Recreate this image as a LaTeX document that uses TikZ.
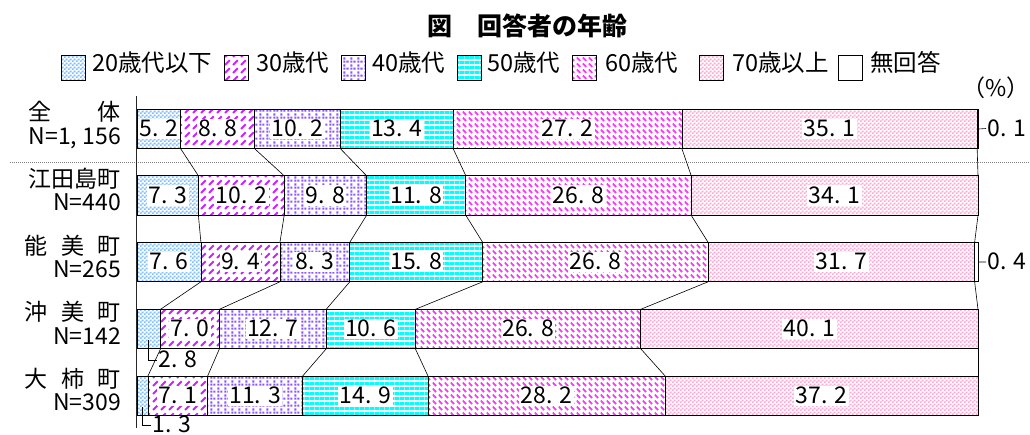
\documentclass[tikz,border=0pt]{standalone}
\usepackage{fontspec}
\setmainfont{Noto Sans CJK JP}
\usetikzlibrary{patterns}
\definecolor{c20}{HTML}{7FBFFF}
\definecolor{c30}{HTML}{CC22FF}
\definecolor{c40}{HTML}{8C55FF}
\definecolor{c50}{HTML}{00FFFF}
\definecolor{c60}{HTML}{FF33FF}
\definecolor{c70}{HTML}{FFA8D4}
\newcommand\whitebg[2]{\pgfsetfillcolor{white}\pgfpathrectangle{\pgfpointorigin}{\pgfqpoint{#1}{#2}}\pgfusepath{fill}}
\pgfdeclarepatterninherentlycolored{p20}{\pgfpointorigin}{\pgfqpoint{4pt}{4pt}}{\pgfqpoint{4pt}{4pt}}{%
  \whitebg{4pt}{4pt}%
  \pgfsetfillcolor{c20}\pgfpathrectangle{\pgfpointorigin}{\pgfqpoint{2pt}{2pt}}%
  \pgfpathrectangle{\pgfqpoint{2pt}{2pt}}{\pgfqpoint{2pt}{2pt}}\pgfusepath{fill}}
\pgfdeclarepatterninherentlycolored{p30}{\pgfpointorigin}{\pgfqpoint{8pt}{8pt}}{\pgfqpoint{8pt}{8pt}}{%
  \whitebg{8pt}{8pt}%
  \pgfsetstrokecolor{c30}\pgfsetlinewidth{2.2pt}%
  \pgfpathmoveto{\pgfqpoint{1.2pt}{1.2pt}}\pgfpathlineto{\pgfqpoint{6.3pt}{6.3pt}}\pgfusepath{stroke}}
\pgfdeclarepatterninherentlycolored{p40}{\pgfpointorigin}{\pgfqpoint{7pt}{7pt}}{\pgfqpoint{7pt}{7pt}}{%
  \whitebg{7pt}{7pt}%
  \pgfsetfillcolor{c40}\pgfpathrectangle{\pgfqpoint{0.3pt}{0.3pt}}{\pgfqpoint{2.4pt}{2.4pt}}%
  \pgfpathrectangle{\pgfqpoint{3.8pt}{0.3pt}}{\pgfqpoint{2.4pt}{2.4pt}}%
  \pgfpathrectangle{\pgfqpoint{0.3pt}{3.8pt}}{\pgfqpoint{2.4pt}{2.4pt}}\pgfusepath{fill}}
\pgfdeclarepatterninherentlycolored{p50}{\pgfpointorigin}{\pgfqpoint{5pt}{5pt}}{\pgfqpoint{5pt}{5pt}}{%
  \whitebg{5pt}{5pt}%
  \pgfsetfillcolor{c50}\pgfpathrectangle{\pgfpointorigin}{\pgfqpoint{5pt}{3.4pt}}\pgfusepath{fill}}
\pgfdeclarepatterninherentlycolored{p60}{\pgfpointorigin}{\pgfqpoint{6pt}{6pt}}{\pgfqpoint{6pt}{6pt}}{%
  \whitebg{6pt}{6pt}%
  \pgfsetstrokecolor{c60}\pgfsetlinewidth{2pt}%
  \pgfpathmoveto{\pgfqpoint{1pt}{5pt}}\pgfpathlineto{\pgfqpoint{4.8pt}{1.2pt}}\pgfusepath{stroke}}
\pgfdeclarepatterninherentlycolored{p70}{\pgfpointorigin}{\pgfqpoint{4pt}{4pt}}{\pgfqpoint{4pt}{4pt}}{%
  \whitebg{4pt}{4pt}%
  \pgfsetfillcolor{c70}\pgfpathrectangle{\pgfpointorigin}{\pgfqpoint{2pt}{2pt}}%
  \pgfpathrectangle{\pgfqpoint{2pt}{2pt}}{\pgfqpoint{2pt}{2pt}}\pgfusepath{fill}}
\newcommand\sg[6]{\node[seg,pattern=#5,minimum width={#3*8.41pt}] (#1) at ({137+#2*8.41},#4) {};
  \node[val] (#1v) at (#1) {#6};}
\newcommand\sgn[4]{\node[seg,fill=white,minimum width={#3*8.41pt}] (#1) at ({137+#2*8.41},#4) {};}
\begin{document}
\begin{tikzpicture}[x=1pt,y=-1pt,
  seg/.style={draw=black,line width=0.7pt,inner sep=0pt,outer sep=0pt,minimum height=39.5pt,anchor=north west},
  val/.style={fill=white,inner xsep=1.5pt,inner ysep=1pt,text height=17pt,text depth=1.5pt,font=\fontsize{23}{25}\selectfont},
  sm/.style={inner xsep=1.5pt,inner ysep=0pt,text height=17pt,text depth=1.5pt,font=\fontsize{23}{25}\selectfont},
  lab/.style={anchor=east,inner sep=0pt,text height=0.8em,text depth=0.05em,font=\fontsize{23}{25}\selectfont},
  legbox/.style={draw=black,line width=0.7pt,minimum width=24pt,minimum height=25pt,inner sep=0pt},
  legtxt/.style={anchor=west,inner sep=0pt,text height=0.8em,text depth=0.05em,font=\fontsize{23.5}{25}\selectfont},
  conn/.style={line width=0.6pt,black}]
\useasboundingbox (0,0) rectangle (1030,434);
% title
\node[font=\fontsize{25}{28}\selectfont\bfseries] (title) at (527,26) {図　回答者の年齢};
% legend
\node[legbox,pattern=p20] (lb1) at (73,68) {};
\node[legtxt] (lt1) at (92,68) {20歳代以下};
\node[legbox,pattern=p30] (lb2) at (236.5,68) {};
\node[legtxt] (lt2) at (256,68) {30歳代};
\node[legbox,pattern=p40] (lb3) at (353.5,68) {};
\node[legtxt] (lt3) at (372,68) {40歳代};
\node[legbox,pattern=p50] (lb4) at (469.5,68) {};
\node[legtxt] (lt4) at (487,68) {50歳代};
\node[legbox,pattern=p60] (lb5) at (584.5,68) {};
\node[legtxt] (lt5) at (605,68) {60歳代};
\node[legbox,pattern=p70] (lb6) at (711,68) {};
\node[legtxt] (lt6) at (732,68) {70歳以上};
\node[legbox,fill=white] (lb7) at (850.5,68) {};
\node[legtxt] (lt7) at (870,68) {無回答};
\node[font=\fontsize{23}{25}\selectfont,inner sep=0pt] (pct) at (996,88) {（\%）};
% separator
\coordinate (sepL) at (10,162);
\coordinate (sepR) at (1030,162);
\draw[gray,line width=0.5pt,dash pattern=on 1pt off 1pt] (sepL) -- (sepR);
% row labels
\node[lab] (n0a) at (121,117) {全　　体};
\node[lab] (n0b) at (121,141) {N=1, 156};
\node[lab] (n1a) at (121,184) {江田島町};
\node[lab] (n1b) at (121,207) {N=440};
\node[lab] (n2a) at (121,251) {能\hspace{0.6em}美\hspace{0.6em}町};
\node[lab] (n2b) at (121,274) {N=265};
\node[lab] (n3a) at (121,317) {沖\hspace{0.6em}美\hspace{0.6em}町};
\node[lab] (n3b) at (121,341) {N=142};
\node[lab] (n4a) at (121,384) {大\hspace{0.6em}柿\hspace{0.6em}町};
\node[lab] (n4b) at (121,407) {N=309};
% row 0
\sg{r0s1}{0}{5.2}{109.3}{p20}{5. 2}
\sg{r0s2}{5.2}{8.8}{109.3}{p30}{8. 8}
\sg{r0s3}{14.0}{10.2}{109.3}{p40}{10. 2}
\sg{r0s4}{24.2}{13.4}{109.3}{p50}{13. 4}
\sg{r0s5}{37.6}{27.2}{109.3}{p60}{27. 2}
\sg{r0s6}{64.8}{35.1}{109.3}{p70}{35. 1}
\sgn{r0s7}{99.9}{0.1}{109.3}
% row 1
\sg{r1s1}{0}{7.3}{175.8}{p20}{7. 3}
\sg{r1s2}{7.3}{10.2}{175.8}{p30}{10. 2}
\sg{r1s3}{17.5}{9.8}{175.8}{p40}{9. 8}
\sg{r1s4}{27.3}{11.8}{175.8}{p50}{11. 8}
\sg{r1s5}{39.1}{26.8}{175.8}{p60}{26. 8}
\sg{r1s6}{65.9}{34.1}{175.8}{p70}{34. 1}
% row 2
\sg{r2s1}{0}{7.6}{242.3}{p20}{7. 6}
\sg{r2s2}{7.6}{9.4}{242.3}{p30}{9. 4}
\sg{r2s3}{17.0}{8.3}{242.3}{p40}{8. 3}
\sg{r2s4}{25.3}{15.8}{242.3}{p50}{15. 8}
\sg{r2s5}{41.1}{26.8}{242.3}{p60}{26. 8}
\sg{r2s6}{67.9}{31.7}{242.3}{p70}{31. 7}
\sgn{r2s7}{99.6}{0.4}{242.3}
% row 3
\node[seg,pattern=p20,minimum width={2.8*8.41pt}] (r3s1) at (137,309.3) {};
\sg{r3s2}{2.8}{7.0}{309.3}{p30}{7. 0}
\sg{r3s3}{9.8}{12.7}{309.3}{p40}{12. 7}
\sg{r3s4}{22.5}{10.6}{309.3}{p50}{10. 6}
\sg{r3s5}{33.1}{26.8}{309.3}{p60}{26. 8}
\sg{r3s6}{59.9}{40.1}{309.3}{p70}{40. 1}
% row 4
\node[seg,pattern=p20,minimum width={1.3*8.41pt}] (r4s1) at (137,376) {};
\sg{r4s2}{1.3}{7.1}{376}{p30}{7. 1}
\sg{r4s3}{8.4}{11.3}{376}{p40}{11. 3}
\sg{r4s4}{19.7}{14.9}{376}{p50}{14. 9}
\sg{r4s5}{34.6}{28.2}{376}{p60}{28. 2}
\sg{r4s6}{62.8}{37.2}{376}{p70}{37. 2}
% connectors between rows
\foreach \i/\j in {0/1,1/2,2/3,3/4}
  \foreach \k in {1,...,6}
    \draw[conn] (r\i s\k.south east) -- (r\j s\k.north east);
% callouts
\node[sm,anchor=west] (v01) at (986,128.5) {0. 1};
\draw[conn] (r0s7.east) -- (v01.west);
\node[sm,anchor=west] (v04) at (986,262) {0. 4};
\draw[conn] (r2s7.east) -- (v04.west);
\node[sm,anchor=west] (v28) at (157,360) {2. 8};
\draw[conn] ([yshift=-11pt]r3s1.center) |- (v28.west);
\node[sm,anchor=west] (v13) at (151,425) {1. 3};
\draw[conn] ([yshift=-11pt]r4s1.center) |- (v13.west);
% axis
\coordinate (axT) at (136.5,96);
\coordinate (axB) at (136.5,428);
\draw[line width=1.2pt,black!85] (axT) -- (axB);
\end{tikzpicture}
\end{document}
